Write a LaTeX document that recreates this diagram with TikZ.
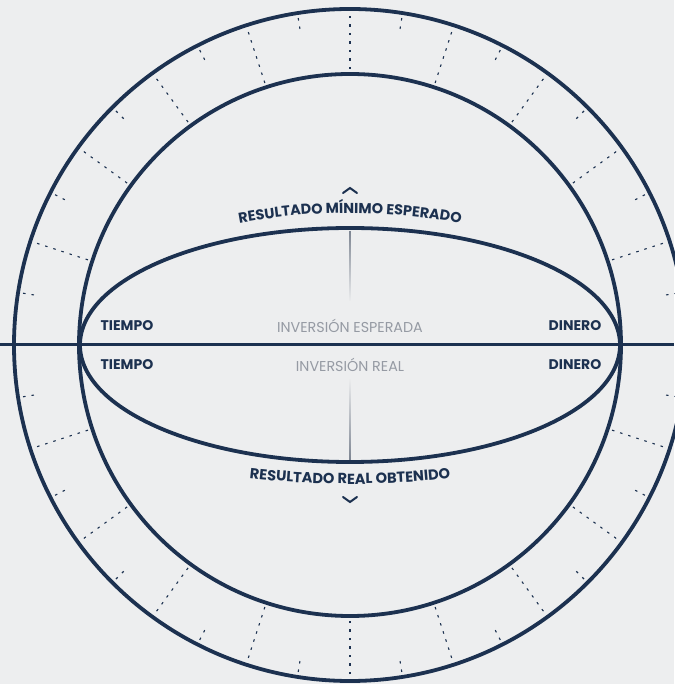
\documentclass[tikz,border=0pt]{standalone}
\usepackage{fontspec}
\setmainfont{Poppins}
\usetikzlibrary{decorations.text,fadings}
\definecolor{navy}{HTML}{1C3150}
\definecolor{greytext}{HTML}{959AA3}
\definecolor{paper}{HTML}{EDEEEF}
\begin{document}
\begin{tikzpicture}[x=1pt,y=1pt,
  side/.style={font=\bfseries\fontsize{14}{15}\selectfont, text=navy},
  invest/.style={font=\fontsize{14.3}{15}\selectfont, text=greytext}]
  \useasboundingbox (-350,-339) rectangle (324,345);
  \fill[paper] (-350,-339) rectangle (324,345);
  % ticks between the circles
  \foreach \a in {0,18,...,342}
    \draw[navy, line width=1.1pt, dash pattern=on 2.5pt off 6pt] (\a:329) -- (\a:272);
  \foreach \a in {9,27,...,351}
    \draw[navy, line width=1.1pt, dash pattern=on 2.5pt off 6pt] (\a:331) -- (\a:316);
  % circles and ellipse
  \draw[navy, line width=3.8pt] (0,0) circle (336);
  \draw[navy, line width=3.8pt] (0,0) circle (271);
  \draw[navy, line width=3.8pt] (0,0) ellipse (270 and 117);
  % axis
  \coordinate (west) at (-350,0);
  \coordinate (east) at (324,0);
  \draw[navy, line width=3pt] (west) -- (east);
  % vertical marks
  \coordinate (uptop) at (0,114);
  \coordinate (upend) at (0,44);
  \coordinate (downtop) at (0,-34);
  \coordinate (downend) at (0,-115);
  \draw[greytext!80!navy, line width=1.3pt, path fading=south] (uptop) -- (upend);
  \draw[greytext!80!navy, line width=1.3pt, path fading=north] (downtop) -- (downend);
  % labels
  \node[side] (tiempoup) at (-223,19) {TIEMPO};
  \node[side] (tiempodown) at (-223,-20) {TIEMPO};
  \node[side] (dineroup) at (225,19) {DINERO};
  \node[side] (dinerodown) at (225,-20) {DINERO};
  \node[invest] (esperada) at (0,19) {INVERSIÓN ESPERADA};
  \node[invest] (real) at (0,-20) {INVERSIÓN REAL};
  % curved titles
  \path[decorate, decoration={text along path, text align=center,
    text={|\bfseries\fontsize{14.4}{15}\selectfont\color{navy}|RESULTADO MÍNIMO ESPERADO}}]
    (0,-468) ++(110:600) arc (110:70:600);
  \path[decorate, decoration={text along path, text align=center,
    text={|\bfseries\fontsize{14.6}{15}\selectfont\color{navy}|RESULTADO REAL OBTENIDO}}]
    (0,761) ++(260:900) arc (260:280:900);
  % chevrons
  \draw[navy, line width=2pt, line cap=round] (-7,152) -- (0,157) -- (7,152);
  \draw[navy, line width=2pt, line cap=round] (-7,-152) -- (0,-157) -- (7,-152);
\end{tikzpicture}
\end{document}
